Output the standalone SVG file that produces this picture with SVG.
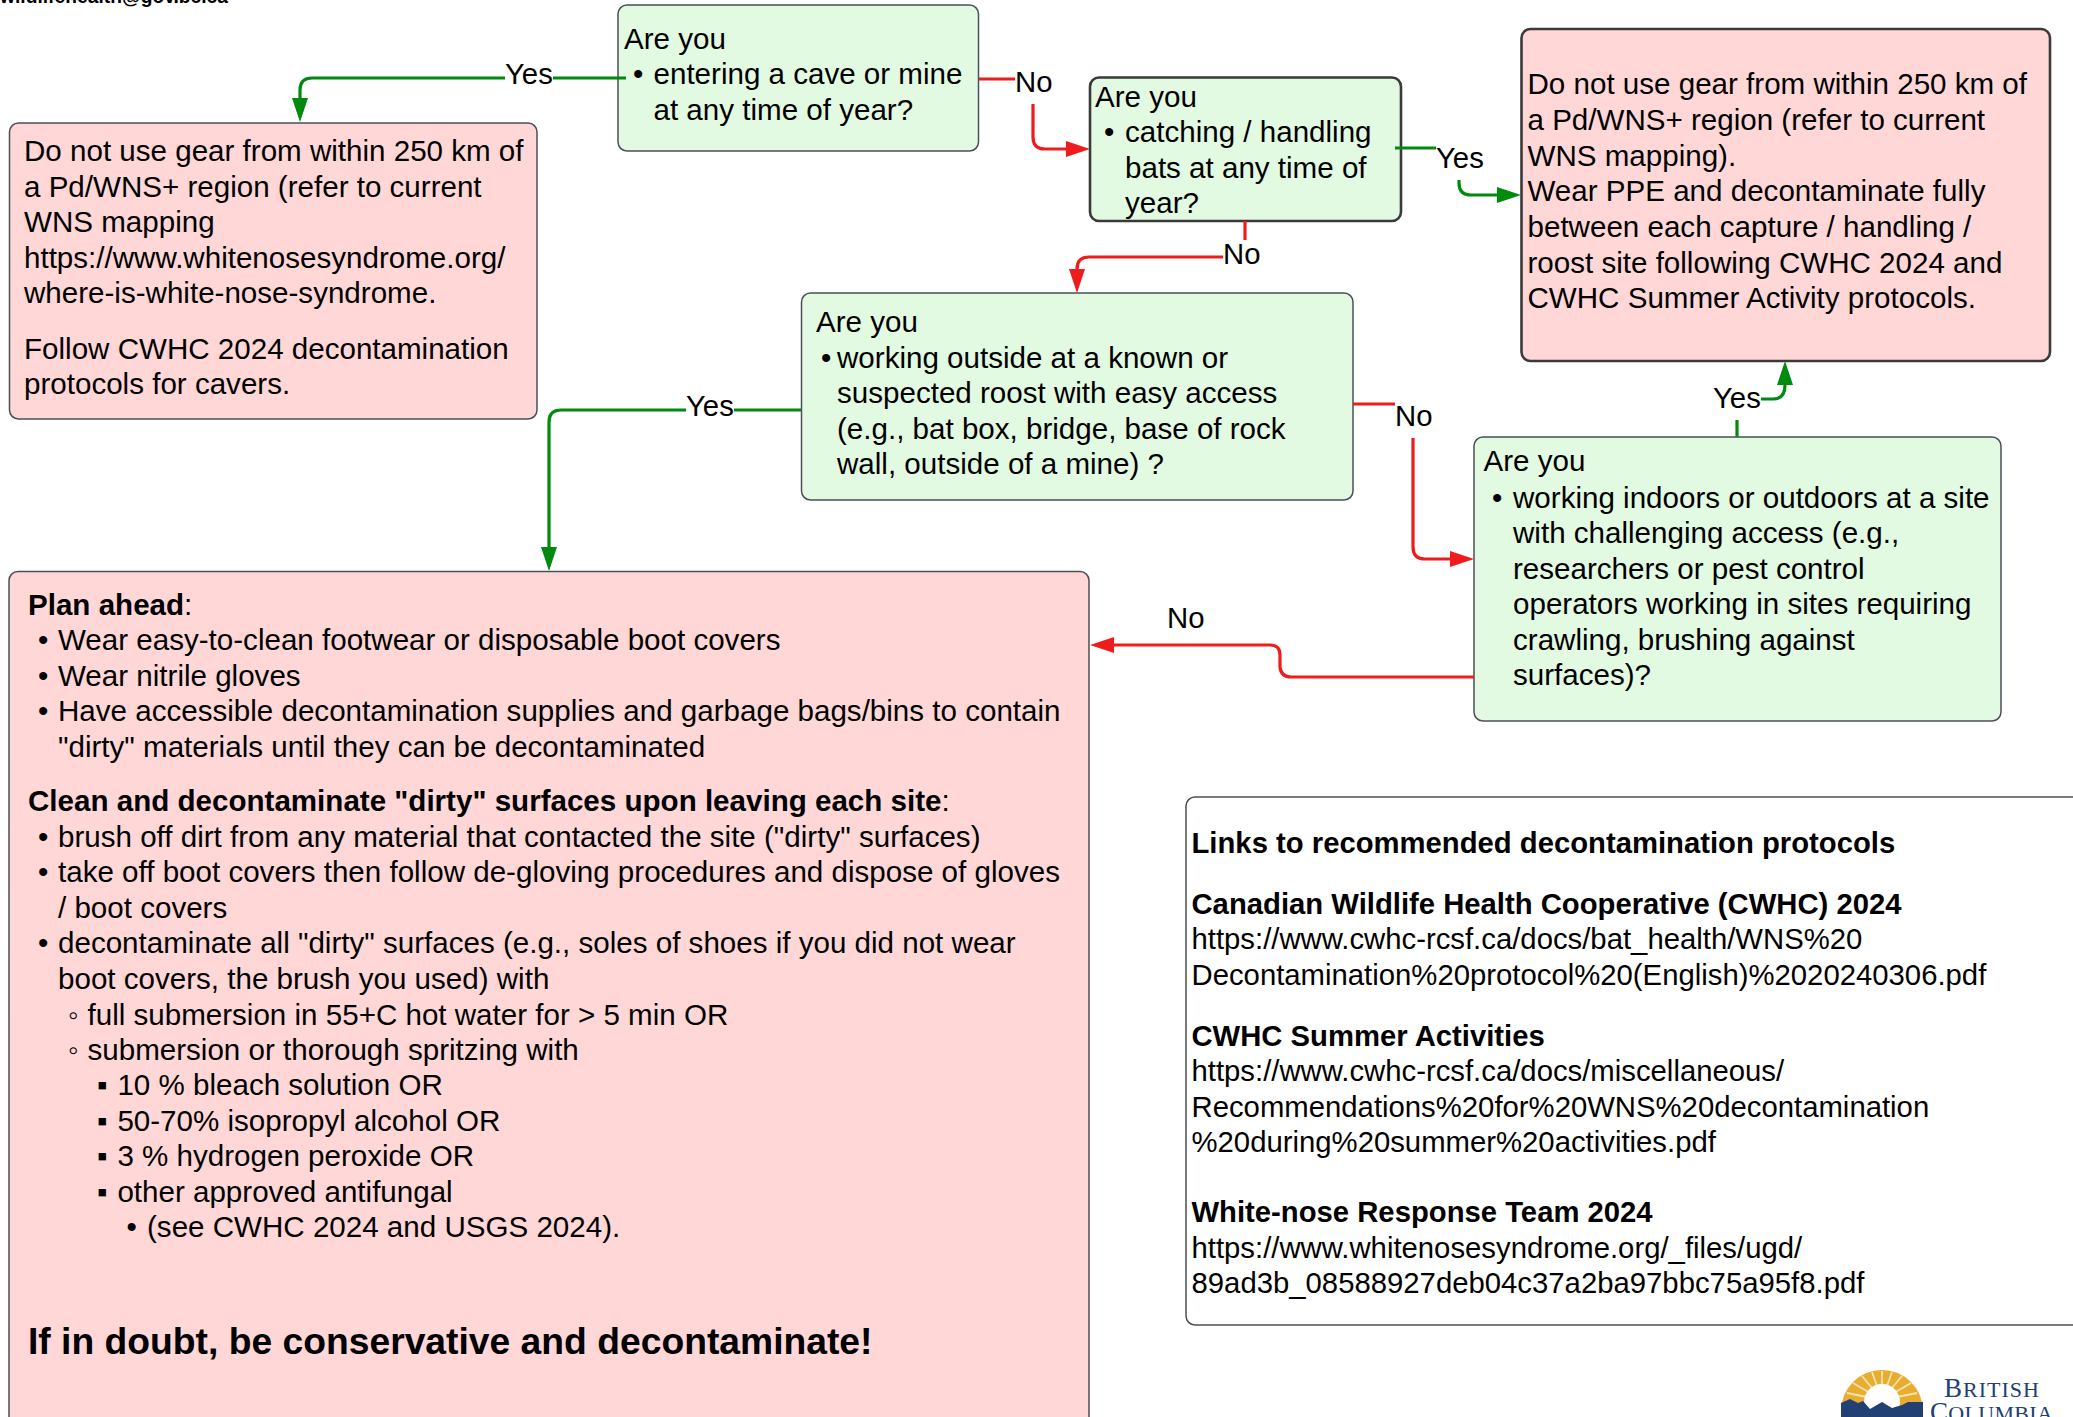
<svg xmlns="http://www.w3.org/2000/svg" width="2073" height="1417" viewBox="0 0 2073 1417">
<style>
text{font-family:"Liberation Sans",Arial,sans-serif;font-size:29.57px;fill:#000;transform:translateY(0.5px)}
#labels text{font-size:29.33px;transform:none}
#links text{font-size:29.3px}
#links text.b{font-size:29.25px}
#email,#logo text{transform:none}
.b{font-weight:bold}
.g{fill:#e2f9e2;stroke:#4a4f58;stroke-width:1.5}
.p{fill:#ffd7d7;stroke:#4a4f58;stroke-width:1.5}
.th{stroke:#3a3a3a;stroke-width:2.6}
.w{fill:#fff;stroke:#4a4f58;stroke-width:1.5}
.cg,.cr{fill:none;stroke-width:3.2}
.cg{stroke:#008a0e}
.cr{stroke:#ee1c1c}
</style>
<defs>
<marker id="ag" markerUnits="userSpaceOnUse" markerWidth="26" markerHeight="18" refX="0" refY="8.500" orient="auto"><path d="M0 0.500L24 8.500L0 16.500Z" fill="#008a0e"/></marker>
<marker id="ar" markerUnits="userSpaceOnUse" markerWidth="26" markerHeight="18" refX="0" refY="8.500" orient="auto"><path d="M0 0.500L24 8.500L0 16.500Z" fill="#ee1c1c"/></marker>
</defs>
<rect width="2073" height="1417" fill="#fff"/>
<text id="email" class="b" x="0" y="3" style="font-size:21px" textLength="228" lengthAdjust="spacingAndGlyphs">wildlifehealth@gov.bc.ca</text>

<g id="q1">
<rect class="g" x="618" y="5" width="360.500" height="146" rx="9"/>
<text x="624" y="48">Are you</text>
<text x="633" y="83.500">•</text><text x="653.500" y="83.500">entering a cave or mine</text>
<text x="653.500" y="119">at any time of year?</text>
</g>
<g id="a1">
<rect class="p" x="9.500" y="123" width="527.500" height="296" rx="9"/>
<text x="24" y="160.700">Do not use gear from within 250 km of</text>
<text x="24" y="196">a Pd/WNS+ region (refer to current</text>
<text x="24" y="231.700">WNS mapping</text>
<text x="24" y="267">https://www.whitenosesyndrome.org/</text>
<text x="24" y="302.700">where-is-white-nose-syndrome.</text>
<text x="24" y="358">Follow CWHC 2024 decontamination</text>
<text x="24" y="393">protocols for cavers.</text>
</g>
<g id="q2">
<rect class="g th" x="1090" y="77.500" width="311" height="143.500" rx="9"/>
<text x="1095" y="106">Are you</text>
<text x="1104" y="141.500">•</text><text x="1125" y="141.500">catching / handling</text>
<text x="1125" y="177">bats at any time of</text>
<text x="1125" y="212">year?</text>
</g>
<g id="a2">
<rect class="p th" x="1521.500" y="29" width="528.500" height="332" rx="9"/>
<text x="1527.500" y="93.700">Do not use gear from within 250 km of</text>
<text x="1527.500" y="129">a Pd/WNS+ region (refer to current</text>
<text x="1527.500" y="165">WNS mapping).</text>
<text x="1527.500" y="200">Wear PPE and decontaminate fully</text>
<text x="1527.500" y="236">between each capture / handling /</text>
<text x="1527.500" y="272">roost site following CWHC 2024 and</text>
<text x="1527.500" y="307">CWHC Summer Activity protocols.</text>
</g>
<g id="q3">
<rect class="g" x="801.500" y="293" width="551.500" height="207" rx="9"/>
<text x="816" y="331">Are you</text>
<text x="821" y="367">•</text><text x="837" y="367">working outside at a known or</text>
<text x="837" y="402">suspected roost with easy access</text>
<text x="837" y="438">(e.g., bat box, bridge, base of rock</text>
<text x="837" y="473">wall, outside of a mine) ?</text>
</g>
<g id="q4">
<rect class="g" x="1474" y="437" width="527" height="284" rx="9"/>
<text x="1483.500" y="470">Are you</text>
<text x="1492" y="507">•</text><text x="1513" y="507">working indoors or outdoors at a site</text>
<text x="1513" y="542">with challenging access (e.g.,</text>
<text x="1513" y="578">researchers or pest control</text>
<text x="1513" y="613">operators working in sites requiring</text>
<text x="1513" y="649">crawling, brushing against</text>
<text x="1513" y="684">surfaces)?</text>
</g>
<g id="a3">
<rect class="p" x="9" y="571.500" width="1080" height="860" rx="9"/>
<text x="28" y="614"><tspan class="b">Plan ahead</tspan>:</text>
<text x="38" y="649">•</text><text x="58" y="649">Wear easy-to-clean footwear or disposable boot covers</text>
<text x="38" y="685">•</text><text x="58" y="685">Wear nitrile gloves</text>
<text x="38" y="720">•</text><text x="58" y="720">Have accessible decontamination supplies and garbage bags/bins to contain</text>
<text x="58" y="756">"dirty" materials until they can be decontaminated</text>
<text x="28" y="810.700"><tspan class="b">Clean and decontaminate "dirty" surfaces upon leaving each site</tspan>:</text>
<text x="38" y="846">•</text><text x="58" y="846">brush off dirt from any material that contacted the site ("dirty" surfaces)</text>
<text x="38" y="881.700">•</text><text x="58" y="881.700">take off boot covers then follow de-gloving procedures and dispose of gloves</text>
<text x="58" y="917">/ boot covers</text>
<text x="38" y="952.700">•</text><text x="58" y="952.700">decontaminate all "dirty" surfaces (e.g., soles of shoes if you did not wear</text>
<text x="58" y="988">boot covers, the brush you used) with</text>
<text x="68" y="1024">◦</text><text x="87.500" y="1024">full submersion in 55+C hot water for &gt; 5 min OR</text>
<text x="68" y="1059">◦</text><text x="87.500" y="1059">submersion or thorough spritzing with</text>
<text x="97" y="1094.500">▪</text><text x="117.400" y="1094.500">10 % bleach solution OR</text>
<text x="97" y="1130">▪</text><text x="117.400" y="1130">50-70% isopropyl alcohol OR</text>
<text x="97" y="1165.700">▪</text><text x="117.400" y="1165.700">3 % hydrogen peroxide OR</text>
<text x="97" y="1201">▪</text><text x="117.400" y="1201">other approved antifungal</text>
<text x="126.500" y="1236.700">•</text><text x="147" y="1236.700">(see CWHC 2024 and USGS 2024).</text>
<text class="b" x="28" y="1353" style="font-size:37.250px">If in doubt, be conservative and decontaminate!</text>
</g>
<g id="links">
<rect class="w" x="1186" y="797" width="900" height="528" rx="9"/>
<text class="b" x="1191.500" y="852">Links to recommended decontamination protocols</text>
<text class="b" x="1191.500" y="913">Canadian Wildlife Health Cooperative (CWHC) 2024</text>
<text x="1191.500" y="948">https://www.cwhc-rcsf.ca/docs/bat_health/WNS%20</text>
<text x="1191.500" y="984">Decontamination%20protocol%20(English)%2020240306.pdf</text>
<text class="b" x="1191.500" y="1045">CWHC Summer Activities</text>
<text x="1191.500" y="1080">https://www.cwhc-rcsf.ca/docs/miscellaneous/</text>
<text x="1191.500" y="1116">Recommendations%20for%20WNS%20decontamination</text>
<text x="1191.500" y="1151">%20during%20summer%20activities.pdf</text>
<text class="b" x="1191.500" y="1221">White-nose Response Team 2024</text>
<text x="1191.500" y="1257">https://www.whitenosesyndrome.org/_files/ugd/</text>
<text x="1191.500" y="1292">89ad3b_08588927deb04c37a2ba97bbc75a95f8.pdf</text>
</g>

<g id="connectors">
<path class="cg" d="M626 78H553M505 78H312Q300 78 300 90V98" marker-end="url(#ag)"/>
<path class="cr" d="M979 79H1015M1033 104V137Q1033 149 1045 149H1066" marker-end="url(#ar)"/>
<path class="cg" d="M1395 148H1436M1459 180V183Q1459 195 1471 195H1497" marker-end="url(#ag)"/>
<path class="cr" d="M1245 221V240M1223 257H1089Q1077 257 1077 269" marker-end="url(#ar)"/>
<path class="cg" d="M801 410H734M686 410H561Q549 410 549 422V547" marker-end="url(#ag)"/>
<path class="cr" d="M1353 404H1395M1413 438V547Q1413 559 1425 559H1450" marker-end="url(#ar)"/>
<path class="cg" d="M1737 437V420M1761 399H1773Q1785 399 1785 385" marker-end="url(#ag)"/>
<path class="cr" d="M1474 677H1291Q1281 677 1280 667V655Q1280 645 1270 645H1114" marker-end="url(#ar)"/>
</g>
<g id="labels">
<text x="505" y="84">Yes</text>
<text x="1015" y="92">No</text>
<text x="1436" y="168">Yes</text>
<text x="1223" y="264">No</text>
<text x="686" y="416">Yes</text>
<text x="1395" y="426">No</text>
<text x="1713" y="408">Yes</text>
<text x="1167" y="628">No</text>
</g>
<g id="logo">
<path d="M1841 1411A41 41 0 0 1 1923 1411Z" fill="#e8ad30"/>
<g stroke="#f8e3b0" stroke-width="1.800">
<path d="M1882 1400L1882 1371M1882 1400L1872 1372M1882 1400L1892 1372M1882 1400L1862 1376M1882 1400L1902 1376M1882 1400L1853 1383M1882 1400L1911 1383M1882 1400L1847 1393M1882 1400L1917 1393"/>
</g>
<circle cx="1882" cy="1402" r="18" fill="#fff"/>
<path d="M1841 1417V1403L1850 1399L1858 1403L1863 1401L1870 1409L1882 1402L1892 1408L1902 1405L1908 1402L1923 1402V1417Z" fill="#234075"/>
<text x="1944" y="1397" style="font-family:'Liberation Serif',serif;font-size:27px;fill:#234075;letter-spacing:1px">B<tspan style="font-size:22px">RITISH</tspan></text>
<text x="1930" y="1421" style="font-family:'Liberation Serif',serif;font-size:27px;fill:#234075;letter-spacing:0.3px">C<tspan style="font-size:22px">OLUMBIA</tspan></text>
</g>
</svg>
